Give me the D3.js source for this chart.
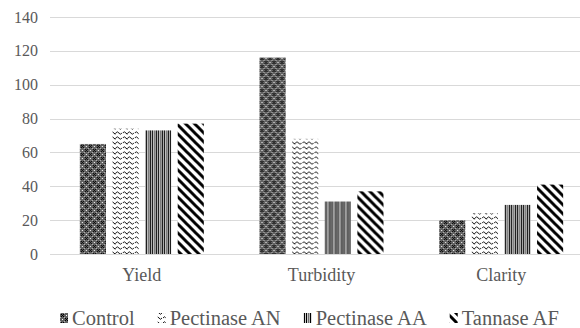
<!DOCTYPE html>
<html>
<head>
<meta charset="utf-8">
<script src="https://cdn.jsdelivr.net/npm/d3@7"></script>
<style>
  html, body { margin: 0; padding: 0; background: #fff; }
  svg { display: block; }
  svg text { font-family: "Liberation Serif", "Tinos", "Times New Roman", "DejaVu Serif", serif; fill: #595959; }
</style>
</head>
<body>
<svg id="chart" width="580" height="328"></svg>
<script>
// Measured attributes and treatments
const categories = ["Yield", "Turbidity", "Clarity"];
const seriesNames = ["Control", "Pectinase AN", "Pectinase AA", "Tannase AF"];
const control     = [65, 116, 20];
const pectinaseAN = [74, 68, 24];
const pectinaseAA = [73, 31, 29];
const tannaseAF   = [77, 37, 41];
const yTicks = [0, 20, 40, 60, 80, 100, 120, 140];

const seriesValues = [control, pectinaseAN, pectinaseAA, tannaseAF];
const patternIds = ["pat-control", "pat-an", "pat-aa", "pat-af"];
const serif = '"Liberation Serif", "Tinos", "Times New Roman", "DejaVu Serif", serif';

const W = 580, H = 328;
const svg = d3.select("#chart");
const defs = svg.append("defs");

// --- fill patterns for each series ---
// Control: dark grey lattice with black crosses and white dots
{
  const p = defs.append("pattern").attr("id", "pat-control")
    .attr("patternUnits", "userSpaceOnUse").attr("width", 8).attr("height", 8);
  p.append("rect").attr("width", 8).attr("height", 8).attr("fill", "#626262");
  const blk = [[1,1],[3,1],[2,2],[1,3],[3,3],[5,5],[7,5],[6,6],[5,7],[7,7]];
  blk.forEach(([x, y]) => p.append("rect").attr("x", x).attr("y", y).attr("width", 1).attr("height", 1).attr("fill", "#000"));
  [[6,2],[2,6]].forEach(([x, y]) => p.append("rect").attr("x", x).attr("y", y).attr("width", 1).attr("height", 1).attr("fill", "#fff"));
  [[0,0],[4,4],[0,4],[4,0]].forEach(([x, y]) => p.append("rect").attr("x", x).attr("y", y).attr("width", 1).attr("height", 1).attr("fill", "#bbb"));
}
// Pectinase AN: small waves on white
{
  const p = defs.append("pattern").attr("id", "pat-an")
    .attr("patternUnits", "userSpaceOnUse").attr("width", 12).attr("height", 5);
  p.append("rect").attr("width", 12).attr("height", 5).attr("fill", "#fff");
  p.append("path").attr("d", "M0,3 Q1.5,0.5 3,3 T6,3 M7,3 Q8.5,0.5 10,3 T12,3")
    .attr("fill", "none").attr("stroke", "#111").attr("stroke-width", 1);
}
// Pectinase AA: vertical black / grey stripes
{
  const p = defs.append("pattern").attr("id", "pat-aa")
    .attr("patternUnits", "userSpaceOnUse").attr("width", 6).attr("height", 6);
  p.append("rect").attr("width", 6).attr("height", 6).attr("fill", "#fff");
  p.append("rect").attr("x", 0).attr("width", 1.2).attr("height", 6).attr("fill", "#000");
  p.append("rect").attr("x", 2).attr("width", 1.5).attr("height", 6).attr("fill", "#707070");
  p.append("rect").attr("x", 4).attr("width", 1.2).attr("height", 6).attr("fill", "#000");
}
// Tannase AF: wide downward diagonal stripes
{
  const p = defs.append("pattern").attr("id", "pat-af")
    .attr("patternUnits", "userSpaceOnUse").attr("width", 9).attr("height", 9);
  p.append("rect").attr("width", 9).attr("height", 9).attr("fill", "#fff");
  p.append("path").attr("d", "M-2,-2 L11,11 M-2,7 L2,11 M7,-2 L11,2")
    .attr("stroke", "#000").attr("stroke-width", 3);
}

// --- scales ---
const y = d3.scaleLinear().domain([0, 140]).range([254, 17]);
const x0 = d3.scaleBand().domain(categories).range([52, 591])
  .paddingInner(0.31).paddingOuter(0.155);
const x1 = d3.scaleBand().domain(seriesNames).range([0, x0.bandwidth()])
  .paddingInner(0.2).paddingOuter(0);

// --- gridlines ---
svg.append("g").selectAll("line").data(yTicks).join("line")
  .attr("x1", 50).attr("x2", W)
  .attr("y1", d => Math.round(y(d)) + 0.5).attr("y2", d => Math.round(y(d)) + 0.5)
  .attr("stroke", "#d9d9d9").attr("stroke-width", 1);

// --- y axis labels ---
const yAxis = svg.append("g").attr("transform", "translate(38,0)")
  .call(d3.axisLeft(y).tickValues(yTicks).tickSize(0).tickPadding(0));
yAxis.attr("font-family", null).attr("font-size", null);
yAxis.select(".domain").remove();
yAxis.selectAll("text").attr("font-size", 16).style("font-family", serif).attr("fill", "#595959");

// --- bars ---
const groups = svg.append("g").selectAll("g").data(categories).join("g")
  .attr("transform", d => `translate(${x0(d)},0)`);
groups.selectAll("rect")
  .data((c, ci) => seriesNames.map((s, si) => ({ s, si, v: seriesValues[si][ci] })))
  .join("rect")
  .attr("x", d => x1(d.s))
  .attr("width", x1.bandwidth())
  .attr("y", d => y(d.v))
  .attr("height", d => y(0) - y(d.v))
  .attr("fill", d => `url(#${patternIds[d.si]})`);

// --- category labels ---
const xAxis = svg.append("g").attr("transform", "translate(0,265)")
  .call(d3.axisBottom(x0).tickSize(0).tickPadding(0));
xAxis.attr("font-family", null).attr("font-size", null);
xAxis.select(".domain").remove();
xAxis.selectAll("text").attr("font-size", 18).attr("dy", "0.9em")
  .style("font-family", serif).attr("fill", "#595959");

// --- legend ---
const legend = svg.append("g").attr("transform", "translate(0,325)");
let lx = 60;
seriesNames.forEach((name, i) => {
  const item = legend.append("g");
  item.append("rect").attr("x", lx).attr("y", -12).attr("width", 8).attr("height", 10)
    .attr("fill", `url(#${patternIds[i]})`);
  const t = item.append("text").attr("x", lx + 12).attr("y", 0)
    .attr("font-size", 20.5).style("font-family", serif).text(name);
  lx += 12 + t.node().getComputedTextLength() + 23;
});
</script>
</body>
</html>
